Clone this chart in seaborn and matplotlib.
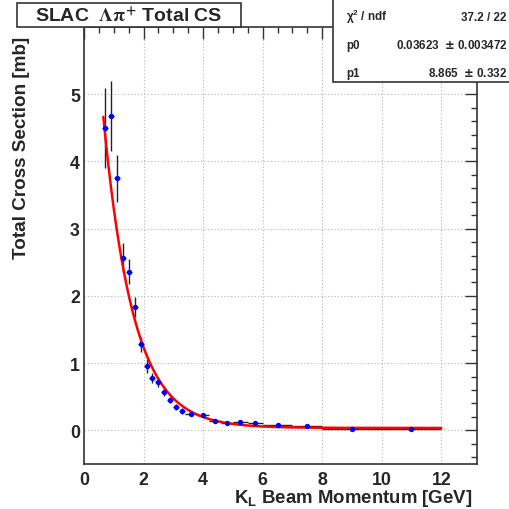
import numpy as np
import pandas as pd
import matplotlib
matplotlib.use("Agg")
import matplotlib.pyplot as plt
from matplotlib.patches import Rectangle
from matplotlib.ticker import MultipleLocator
import seaborn as sns

# SLAC K_L p -> Lambda pi+ total cross section, measured points
momentum = [0.7, 0.9, 1.1, 1.3, 1.5, 1.7, 1.9, 2.1, 2.3, 2.5, 2.7, 2.9, 3.1, 3.3,
            3.6, 4.0, 4.4, 4.8, 5.25, 5.75, 6.5, 7.5, 9.0, 11.0]
momentum_halfwidth = [0.1] * 14 + [0.2, 0.2, 0.2, 0.2, 0.25, 0.25, 0.5, 0.5, 1.0, 1.0]
cross_section = [4.50, 4.67, 3.75, 2.57, 2.36, 1.84, 1.28, 0.96, 0.78, 0.72, 0.57, 0.45,
                 0.35, 0.29, 0.24, 0.23, 0.145, 0.11, 0.13, 0.105, 0.075, 0.058, 0.027, 0.027]
cross_section_err = [0.60, 0.52, 0.35, 0.22, 0.19, 0.15, 0.11, 0.10, 0.08, 0.07, 0.06, 0.05,
                     0.04, 0.04, 0.03, 0.03, 0.02, 0.02, 0.02, 0.02, 0.015, 0.012, 0.008, 0.008]

# Fit: f(p) = p0 + p1 * exp(-p)
chi2, ndf = 37.2, 22
p0, p0_err = 0.03623, 0.003472
p1, p1_err = 8.865, 0.332
fit_range = (0.65, 12.0)

x_ticks = [0, 2, 4, 6, 8, 10, 12]
y_ticks = [0, 1, 2, 3, 4, 5]

sns.set_theme(style="white")
plt.rcParams["font.family"] = ["Liberation Sans", "DejaVu Sans"]
plt.rcParams["font.weight"] = "bold"

W = H = 510
fig = plt.figure(figsize=(W / 100, H / 100), dpi=100)
fig.patch.set_facecolor("white")
L, R, T, B = 84, 477, 28, 465
ax = fig.add_axes([L / W, 1 - B / H, (R - L) / W, (B - T) / H])
ax.set_facecolor("white")
ax.set_xlim(0, 13.2)
ax.set_ylim(-0.5, 6.0)

ax.grid(True, which="major", color="#b4b4b4", linestyle=(0, (1, 2)), linewidth=0.8)
ax.set_axisbelow(True)

df = pd.DataFrame({"momentum": momentum, "xs": cross_section})
fit_x = np.linspace(fit_range[0], fit_range[1], 400)
fit_df = pd.DataFrame({"momentum": fit_x, "xs": p0 + p1 * np.exp(-fit_x)})

ax.errorbar(momentum, cross_section, xerr=momentum_halfwidth, yerr=cross_section_err,
            fmt="none", ecolor="#222222", elinewidth=1.0, capsize=0, zorder=2)
sns.lineplot(data=fit_df, x="momentum", y="xs", color="#ff0000", linewidth=1.8,
             ax=ax, zorder=3, legend=False)
sns.scatterplot(data=df, x="momentum", y="xs", color="#0000ff", s=15, marker="o",
                edgecolor="#0000ff", linewidth=0, ax=ax, zorder=4, legend=False)

ax.set_xticks(x_ticks)
ax.set_yticks(y_ticks)
ax.xaxis.set_minor_locator(MultipleLocator(0.5))
ax.yaxis.set_minor_locator(MultipleLocator(0.2))
ax.tick_params(which="both", direction="in", top=True, right=True, color="#333333",
               width=1.0, labelsize=12.8)
ax.tick_params(which="major", length=8.5)
ax.tick_params(which="minor", length=4.3)
ax.tick_params(axis="x", pad=5)
ax.tick_params(axis="y", pad=3)
for lab in ax.get_xticklabels() + ax.get_yticklabels():
    lab.set_fontweight("bold")
for sp in ax.spines.values():
    sp.set_color("#333333")
    sp.set_linewidth(1.2)

ax.set_xlabel("")
ax.set_ylabel("")
fig.text(472 / W, 1 - 503 / H, r"K$_\mathregular{L}$ Beam Momentum [GeV]", ha="right",
         va="baseline", fontsize=13.4, fontweight="bold")
fig.text(22 / W, 1 - 37 / H, "Total Cross Section [mb]", ha="center", va="top",
         rotation=90, fontsize=13.6, fontweight="bold")

# Title box
fig.patches.append(Rectangle((17 / W, 1 - 28 / H), (241 - 17) / W, (28 - 4) / H,
                             transform=fig.transFigure, facecolor="white",
                             edgecolor="#333333", linewidth=1.2, zorder=5))
fig.text(129 / W, 1 - 23 / H,
         r"SLAC  $\mathrm{\Lambda\pi^{+}}$ Total CS", ha="center", va="baseline",
         fontsize=14, fontweight="bold", zorder=6, math_fontfamily="stix")

# Fit statistics box
fig.patches.append(Rectangle((333 / W, 1 - 83 / H), (512 - 333) / W, 85 / H,
                             transform=fig.transFigure, facecolor="white",
                             edgecolor="#333333", linewidth=1.2, zorder=5))
rows = [
    (r"$\mathregular{\chi^{2}}$ / ndf", f"{chi2:.1f} / {ndf}"),
    ("p0", f"{p0}  $\\pm$ {p0_err}"),
    ("p1", f"{p1}  $\\pm$ {p1_err}"),
]
for i, (name, val) in enumerate(rows):
    yb = 21 + 28 * i
    fig.text(346 / W, 1 - yb / H, name, ha="left", va="baseline", fontsize=8.4,
             fontweight="bold", zorder=6)
    fig.text(507 / W, 1 - yb / H, val, ha="right", va="baseline", fontsize=8.4,
             fontweight="bold", zorder=6)

fig.savefig("out.png", dpi=100, facecolor="white")
